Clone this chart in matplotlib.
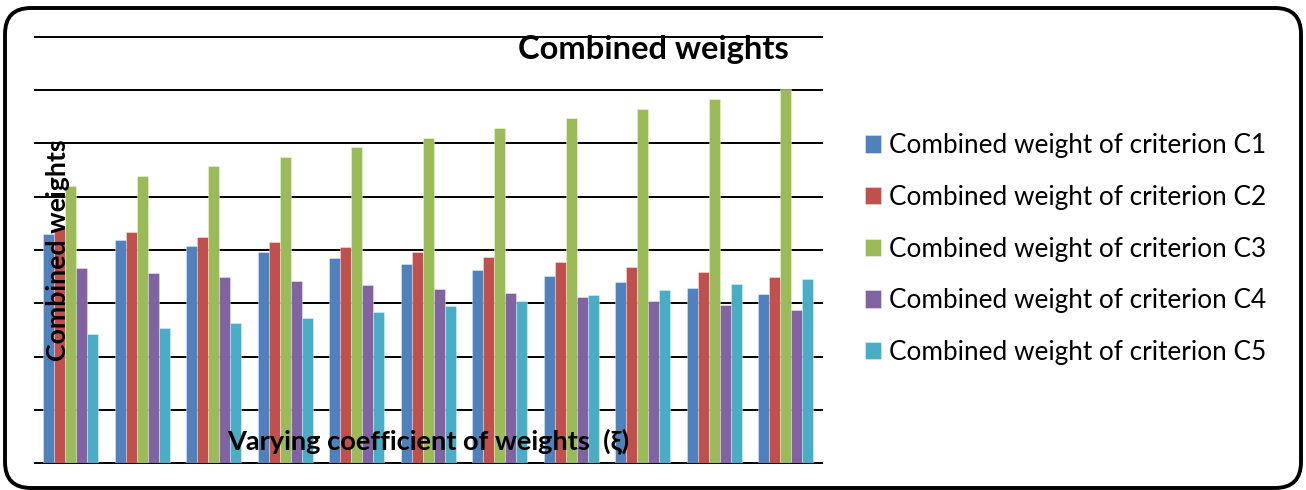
import numpy as np
import matplotlib
matplotlib.use("Agg")
import matplotlib.pyplot as plt
from matplotlib.patches import FancyBboxPatch

# Combined weights of five criteria for eleven values of the varying coefficient
groups = list(range(11))
c1 = [0.2147, 0.2094, 0.2037, 0.1978, 0.1928, 0.1869, 0.1812, 0.1756, 0.1700, 0.1644, 0.1587]
c2 = [0.2203, 0.2171, 0.2122, 0.2075, 0.2025, 0.1978, 0.1934, 0.1884, 0.1837, 0.1790, 0.1744]
c3 = [0.2600, 0.2694, 0.2784, 0.2872, 0.2963, 0.3053, 0.3144, 0.3234, 0.3325, 0.3416, 0.3506]
c4 = [0.1828, 0.1787, 0.1750, 0.1709, 0.1672, 0.1634, 0.1597, 0.1559, 0.1522, 0.1484, 0.1440]
c5 = [0.1210, 0.1266, 0.1315, 0.1365, 0.1419, 0.1472, 0.1522, 0.1575, 0.1625, 0.1678, 0.1728]

series = [c1, c2, c3, c4, c5]
labels = [f"Combined weight of criterion C{i}" for i in range(1, 6)]
colors = ["#4F81BD", "#C0504D", "#9BBB59", "#8064A2", "#4BACC6"]

plt.rcParams["font.family"] = ["Lato", "DejaVu Sans"]

W, H = 1306, 490
fig = plt.figure(figsize=(W / 100, H / 100), dpi=100)

# rounded outer frame, drawn in pixel coordinates
bg = fig.add_axes([0, 0, 1, 1])
bg.set_xlim(0, W)
bg.set_ylim(0, H)
bg.axis("off")
frame = FancyBboxPatch((5, 2), 1296, 480,
                       boxstyle="round,pad=0,rounding_size=26",
                       facecolor="white", edgecolor="black", linewidth=2.8)
bg.add_patch(frame)

ax = fig.add_axes([35 / W, (H - 463.3) / H, (821.7 - 35) / W, (463.3 - 36.7) / H])
ax.patch.set_alpha(0)

x = np.arange(len(groups))
bw = 0.154
bars = []
for i, (vals, col, lab) in enumerate(zip(series, colors, labels)):
    b = ax.bar(x + (i - 2) * bw, vals, width=bw, color=col, label=lab,
               edgecolor=(1, 1, 1, 0.5), linewidth=0.5, zorder=3)
    bars.append(b)

ax.set_xlim(-0.5, len(groups) - 0.5)
ax.set_ylim(0, 0.4)
ax.set_yticks(np.arange(0, 0.401, 0.05))
ax.set_xticks([])
ax.tick_params(left=False, labelleft=False)
for s in ax.spines.values():
    s.set_visible(False)
ax.yaxis.grid(True, color="black", linewidth=1.4)
for gl in ax.get_ygridlines():
    gl.set_clip_on(False)
ax.set_axisbelow(True)

ax.text(0.7856, 0.97, "Combined weights", transform=ax.transAxes,
        ha="center", va="center", fontsize=23.5, fontweight="bold", zorder=5)
ax.text(0.029, 0.50, "Combined weights", transform=ax.transAxes, rotation=90,
        ha="center", va="center", fontsize=19.3, fontweight="bold", zorder=5)
ax.text(0.50, 0.052, "Varying coefficient of weights  (ξ)", transform=ax.transAxes,
        ha="center", va="center", fontsize=19.6, fontweight="bold", zorder=5)

fig.legend(handles=bars, labels=labels, loc="center left",
           bbox_to_anchor=(841 / W, (H - 249) / H), frameon=False,
           fontsize=18.8, handlelength=0.64, handleheight=0.64,
           handletextpad=0.28, labelspacing=1.02)

fig.savefig("out.png", dpi=100)
